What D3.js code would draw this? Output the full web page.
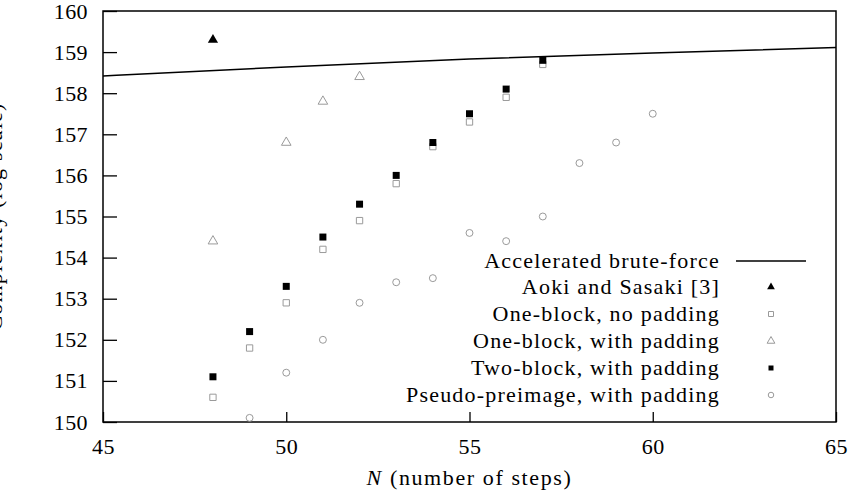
<!DOCTYPE html>
<html>
<head>
<meta charset="utf-8">
<title>Complexity vs steps</title>
<script src="https://d3js.org/d3.v7.min.js"></script>
<style>
  body { margin: 0; background: #fff; }
  text { font-family: "Liberation Serif", "DejaVu Serif", serif; fill: #000; }
</style>
</head>
<body>
<div id="chart"></div>
<script>
// data
const bruteN = [45, 50, 55, 60, 65];
const bruteC = [158.42, 158.64, 158.83, 158.98, 159.11];

const aokiN = [48];
const aokiC = [159.3];

const oneNoPadN = [48, 49, 50, 51, 52, 53, 54, 55, 56, 57];
const oneNoPadC = [150.6, 151.8, 152.9, 154.2, 154.9, 155.8, 156.7, 157.3, 157.9, 158.7];

const onePadN = [48, 50, 51, 52];
const onePadC = [154.4, 156.8, 157.8, 158.4];

const twoPadN = [48, 49, 50, 51, 52, 53, 54, 55, 56, 57];
const twoPadC = [151.1, 152.2, 153.3, 154.5, 155.3, 156.0, 156.8, 157.5, 158.1, 158.8];

const pseudoN = [49, 50, 51, 52, 53, 54, 55, 56, 57, 58, 59, 60];
const pseudoC = [150.1, 151.2, 152.0, 152.9, 153.4, 153.5, 154.6, 154.4, 155.0, 156.3, 156.8, 157.5];

const xTicks = [45, 50, 55, 60, 65];
const yTicks = [150, 151, 152, 153, 154, 155, 156, 157, 158, 159, 160];

const legendLabels = [
  "Accelerated brute-force",
  "Aoki and Sasaki [3]",
  "One-block, no padding",
  "One-block, with padding",
  "Two-block, with padding",
  "Pseudo-preimage, with padding"
];

const W = 849, H = 494;
const margin = {top: 11, right: 13, bottom: 72, left: 103};
const width = W - margin.left - margin.right,
      height = H - margin.top - margin.bottom;

const svg = d3.select("#chart").append("svg")
    .attr("width", W).attr("height", H);
const g = svg.append("g")
    .attr("transform", `translate(${margin.left},${margin.top})`);

const x = d3.scaleLinear().domain([45, 65]).range([0, width]);
const y = d3.scaleLinear().domain([150, 160]).range([height, 0]);

// axes with inward ticks
const yAxis = g.append("g")
    .call(d3.axisLeft(y).tickValues(yTicks).tickSize(-14).tickPadding(15).tickFormat(d3.format("d")));
yAxis.selectAll("text").style("font-size", "22px").style("letter-spacing", "0.4px");
yAxis.selectAll("line").attr("stroke", "#000").attr("stroke-width", 1.3);

const xAxis = g.append("g")
    .attr("transform", `translate(0,${height})`)
    .call(d3.axisBottom(x).tickValues(xTicks).tickSize(-10).tickPadding(16).tickFormat(d3.format("d")));
xAxis.selectAll("text").style("font-size", "22px").style("letter-spacing", "0.4px");
xAxis.selectAll("line").attr("stroke", "#000").attr("stroke-width", 1.3);
g.selectAll(".domain").remove();

// frame
g.append("rect")
    .attr("width", width).attr("height", height)
    .attr("fill", "none").attr("stroke", "#000").attr("stroke-width", 1.5);

// axis titles
const xt = svg.append("text")
    .attr("x", margin.left + width / 2).attr("y", 485)
    .attr("text-anchor", "middle").style("font-size", "22px")
    .style("letter-spacing", "1.6px");
xt.append("tspan").style("font-style", "italic").text("N");
xt.append("tspan").text(" (number of steps)");

svg.append("text")
    .attr("transform", `translate(2,${margin.top + height / 2}) rotate(-90)`)
    .attr("text-anchor", "middle").style("font-size", "22px")
    .style("letter-spacing", "1.2px")
    .text("Complexity (log scale)");

// brute-force curve
const clip = svg.append("clipPath").attr("id", "clip")
  .append("rect").attr("width", width).attr("height", height);
g.append("path")
    .datum(bruteN.map((n, i) => [n, bruteC[i]]))
    .attr("clip-path", "url(#clip)")
    .attr("fill", "none").attr("stroke", "#000").attr("stroke-width", 1.5)
    .attr("d", d3.line().x(d => x(d[0])).y(d => y(d[1])).curve(d3.curveNatural));

const grey = "#9a9a9a";
const tri = d3.symbol().type(d3.symbolTriangle);
const sq = d3.symbol().type(d3.symbolSquare);
const circ = d3.symbol().type(d3.symbolCircle);

function drawSeries(ns, cs, gen, size, fill, stroke) {
  g.append("g").selectAll("path")
    .data(ns.map((n, i) => [n, cs[i]]))
    .join("path")
      .attr("transform", d => `translate(${x(d[0])},${y(d[1])})`)
      .attr("d", gen.size(size)())
      .attr("fill", fill).attr("stroke", stroke).attr("stroke-width", 1);
}

drawSeries(oneNoPadN, oneNoPadC, sq, 40, "#fff", grey);
drawSeries(onePadN, onePadC, tri, 40, "none", grey);
drawSeries(pseudoN, pseudoC, circ, 38, "none", grey);
drawSeries(twoPadN, twoPadC, sq, 49, "#000", "none");
drawSeries(aokiN, aokiC, tri, 45, "#000", "none");

// legend
const lg = svg.append("g");
const rowY = [261, 287, 314, 341, 368, 395];
const textX = 720, symX = 771;
lg.selectAll("text").data(legendLabels).join("text")
    .attr("x", textX).attr("y", (d, i) => rowY[i])
    .attr("dy", "0.33em").attr("text-anchor", "end")
    .style("font-size", "22px").style("letter-spacing", "1.2px")
    .text(d => d);

lg.append("line").attr("x1", 736).attr("x2", 806).attr("y1", rowY[0]).attr("y2", rowY[0])
    .attr("stroke", "#000").attr("stroke-width", 1.5);
const legendSyms = [
  [tri, 26, "#000", "none"],
  [sq, 25, "#fff", grey],
  [tri, 26, "none", grey],
  [sq, 25, "#000", "none"],
  [circ, 24, "none", grey]
];
legendSyms.forEach((s, i) => {
  lg.append("path")
    .attr("transform", `translate(${symX},${rowY[i + 1]})`)
    .attr("d", s[0].size(s[1])())
    .attr("fill", s[2]).attr("stroke", s[3]).attr("stroke-width", 1);
});
</script>
</body>
</html>
